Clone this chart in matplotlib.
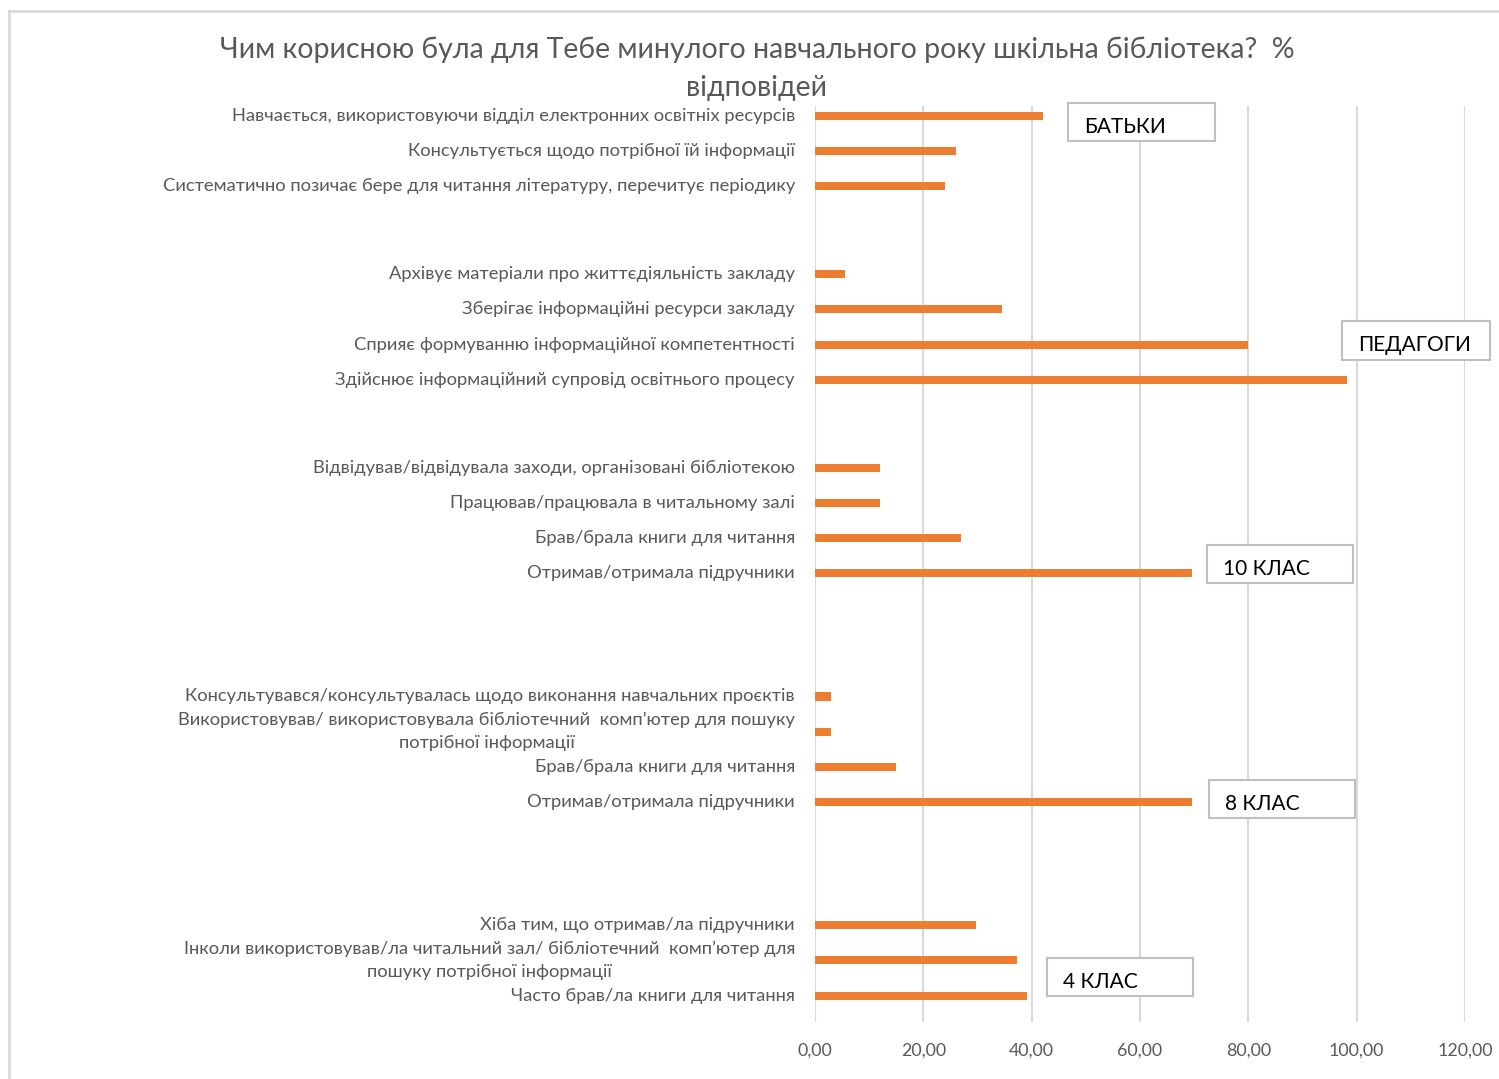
import matplotlib
matplotlib.use("Agg")
import matplotlib.pyplot as plt
import matplotlib.patches as patches
from matplotlib.lines import Line2D

plt.rcParams['font.family'] = ['Lato', 'Open Sans', 'DejaVu Sans']

# groups top to bottom: labels and values (% of answers)
group_names = ['БАТЬКИ', 'ПЕДАГОГИ', '10 КЛАС', '8 КЛАС', '4 КЛАС']
labels_parents = [
    'Навчається, використовуючи відділ електронних освітніх ресурсів',
    'Консультується щодо потрібної їй інформації',
    'Систематично позичає бере для читання літературу, перечитує періодику',
]
values_parents = [42.0, 26.0, 24.0]
labels_teachers = [
    'Архівує матеріали про життєдіяльність закладу',
    'Зберігає інформаційні ресурси закладу',
    'Сприяє формуванню інформаційної компетентності',
    'Здійснює інформаційний супровід освітнього процесу',
]
values_teachers = [5.5, 34.5, 80.0, 98.2]
labels_grade10 = [
    'Відвідував/відвідувала заходи, організовані бібліотекою',
    'Працював/працювала в читальному залі',
    'Брав/брала книги для читання',
    'Отримав/отримала підручники',
]
values_grade10 = [12.0, 12.0, 27.0, 69.6]
labels_grade8 = [
    'Консультувався/консультувалась щодо виконання навчальних проєктів',
    'Використовував/ використовувала бібліотечний  комп’ютер для пошуку\nпотрібної інформації',
    'Брав/брала книги для читання',
    'Отримав/отримала підручники',
]
values_grade8 = [3.0, 3.0, 15.0, 69.6]
labels_grade4 = [
    'Хіба тим, що отримав/ла підручники',
    'Інколи використовував/ла читальний зал/ бібліотечний  комп’ютер для\nпошуку потрібної інформації',
    'Часто брав/ла книги для читання',
]
values_grade4 = [29.7, 37.3, 39.1]

groups = [
    (labels_parents, values_parents),
    (labels_teachers, values_teachers),
    (labels_grade10, values_grade10),
    (labels_grade8, values_grade8),
    (labels_grade4, values_grade4),
]
# blank space (in rows) before each group
gap_before = [0, 1.5, 1.5, 2.5, 2.5]

labels, values, ypos = [], [], []
y = -1.0
for (lab, val), gap in zip(groups, gap_before):
    y += gap
    for l, v in zip(lab, val):
        y += 1
        labels.append(l)
        values.append(v)
        ypos.append(y)

GRAY = '#595959'
GRID = '#D9D9D9'
ORANGE = '#ED7D31'

W, H = 1499, 1079
fig = plt.figure(figsize=(W / 100, H / 100), dpi=100)
ax = fig.add_axes([815 / W, 1 - 1022 / H, (1465 - 815) / W, (1022 - 106) / H])

ax.barh(ypos, values, height=0.23, color=ORANGE, zorder=3)
ax.set_xlim(0, 120)
ax.set_ylim(25.75, -0.28)
ax.set_xticks(range(0, 121, 20))
ax.set_xticklabels([f'{v:.2f}'.replace('.', ',') for v in range(0, 121, 20)],
                   fontsize=12.8, color=GRAY)
ax.tick_params(axis='x', length=0, pad=15)
ax.set_yticks([])
ax.grid(axis='x', color=GRID, linewidth=1.5, zorder=0)
for s in ax.spines.values():
    s.set_visible(False)
ax.axvline(0, color=GRID, linewidth=1.5, zorder=1)

for l, yy in zip(labels, ypos):
    ax.text(-3.7, yy, l, ha='right', va='center', multialignment='center',
            fontsize=13.2, color=GRAY, linespacing=1.55)

fig.text(757 / W, 1 - 69 / H,
         'Чим корисною була для Тебе минулого навчального року шкільна бібліотека?  %\nвідповідей',
         ha='center', va='center', fontsize=20.5, color=GRAY, linespacing=1.55)

# group caption boxes (left, top, right, bottom in pixels)
boxes = [(1068, 103, 1215, 141), (1342, 321, 1490, 360), (1207, 545, 1353, 583),
         (1209, 780, 1355, 818), (1047, 958, 1193, 996)]
for name, (x0, y0, x1, y1) in zip(group_names, boxes):
    fig.patches.append(patches.Rectangle((x0 / W, 1 - y1 / H), (x1 - x0) / W, (y1 - y0) / H,
                                         transform=fig.transFigure, facecolor='white',
                                         edgecolor='#BFBFBF', linewidth=1.5, zorder=5))
    fig.text((x0 + 16) / W, 1 - (y0 + 24) / H, name, ha='left', va='center',
             fontsize=15, color='black', zorder=6)

# outer chart frame
fig.add_artist(Line2D([9 / W, 9 / W], [0, 1 - 11 / H], transform=fig.transFigure,
                      color='#D9D9D9', linewidth=2))
fig.add_artist(Line2D([9 / W, 1], [1 - 11 / H, 1 - 11 / H], transform=fig.transFigure,
                      color='#D9D9D9', linewidth=2))

fig.savefig('out.png', dpi=100, facecolor='white')
